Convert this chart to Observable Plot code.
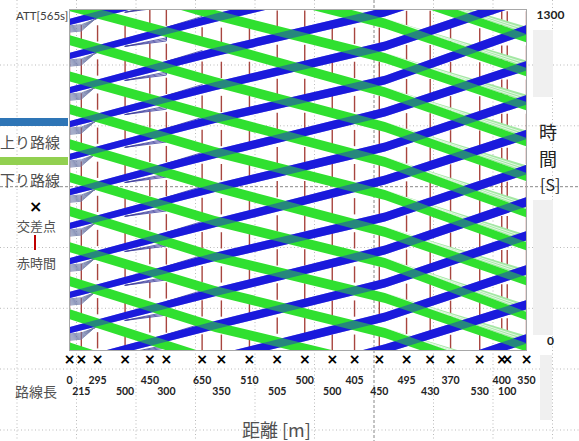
<!DOCTYPE html>
<html><head><meta charset="utf-8">
<script src="https://cdn.jsdelivr.net/npm/d3@7"></script>
<script src="https://cdn.jsdelivr.net/npm/@observablehq/plot@0.6"></script>
<style>
body{margin:0;background:#fff;}
#wrap{position:relative;width:579px;height:441px;overflow:hidden;background:#fff;font-family:"Noto Sans CJK JP",sans-serif;color:#505050;}
#grid,#chart{position:absolute;left:0;top:0;}
.t{position:absolute;white-space:nowrap;line-height:1;}
.sw{position:absolute;left:0;width:68px;height:8px;}
</style></head><body>
<div id="wrap">
<svg id="grid" width="579" height="441"></svg>
<div class="t" style="left:533px;top:30px;width:20px;height:67px;background:#f0f0f0"></div>
<div class="t" style="left:533px;top:200px;width:20px;height:135px;background:#f0f0f0"></div>
<div class="t" style="left:540px;top:355px;width:12px;height:65px;background:#f0f0f0"></div>
<div id="chart"></div>
<div class="t" style="left:16px;top:9px;font:11.5px Lato,sans-serif;color:#404040">ATT[565s]</div>
<div class="sw" style="top:118px;background:#2e75b6"></div>
<div class="t" style="left:0px;top:134px;font-size:15px">上り路線</div>
<div class="sw" style="top:157px;background:#92d050"></div>
<div class="t" style="left:0px;top:172px;font-size:15px">下り路線</div>
<div class="t" style="left:29px;top:197px;font:bold 16px 'DejaVu Sans';color:#000">×</div>
<div class="t" style="left:17px;top:219px;font-size:13px">交差点</div>
<div class="t" style="left:34px;top:235px;width:2px;height:15px;background:#c00000"></div>
<div class="t" style="left:17px;top:256px;font-size:13px">赤時間</div>
<div class="t" style="left:15px;top:384px;font-size:14px">路線長</div>
<div class="t" style="left:242px;top:420px;font-size:18px">距離 [m]</div>
<div class="t" style="left:539px;top:122px;font-size:18px;color:#222">時</div>
<div class="t" style="left:539px;top:149px;font-size:18px;color:#222">間</div>
<div class="t" style="left:540px;top:176px;font-size:16px;color:#222">[S]</div>
</div>
<script>
// link lengths between consecutive intersections [m]
const linkLengths = [0,215,295,500,450,300,650,350,510,505,500,500,405,450,495,430,370,530,400,100,350];
// distances where the band times were read [m]
const bandDist = [0, 2653, 5742, 8305];
// upbound (上り) platoon centre times [s] at bandDist
const upT0 = [-441,-311,-181,-51,75,209,338,472,601,735,860,990,1120,1250];
const upT1 = [-295,-165,-35,95,221,355,484,618,747,881,1006,1136,1266,1396];
const upT2 = [-137,5,126,255,381,507,648,774,907,1029,1159,1288,1424,1554];
const upT3 = [42,172,305,435,564,687,821,953,1083,1220,1340,1469,1605,1735];
const upWidth = [24,32,34,36];
// downbound (下り) platoon centre times [s] at bandDist
const downT0 = [11,137,263,393,530,659,785,919,1044,1182,1311,1441,1580,1710];
const downT1 = [-172,-42,88,225,355,492,621,755,888,1022,1163,1277,1410,1540];
const downT2 = [-328,-198,-68,65,198,332,450,591,717,850,983,1113,1245,1375];
const downT3 = [-517,-387,-257,-124,11,130,263,396,522,660,793,930,1060,1189];
const downWidth = [38,38,38,32];
const downFan = [0,0,0,28];
// queued entry vehicles (seconds before the upbound platoon at the entry)
const entryQueue = [12,16,20,24,28,32,36];
// stragglers stopped at the 6th intersection (seconds behind the platoon edge)
const stopLag = [9,15,21];
// signal plan
const cycle = 130;
const redTime = 62;
const redMid = [39,38,37,35,98,97,29,28,28,93,93,28,28,28,92,92,27,26,90,90,90];
const timeTicks = [0,1300];

// background sheet grid
const g = d3.select("#grid");
const vx = [17,76.5,136,195.5,255,314.5,374,433.5,493,552.5];
const hy = [65,125.8,186.7,247.5,308.3,369,430];
vx.forEach(x=>g.append("line").attr("x1",x).attr("x2",x).attr("y1",0).attr("y2",441)
  .attr("stroke",x===374?"#888":"#bbb").attr("stroke-dasharray",x===374?"3,2":"1,2.5"));
hy.forEach(y=>g.append("line").attr("y1",y).attr("y2",y).attr("x1",0).attr("x2",579)
  .attr("stroke",Math.abs(y-186.7)<1?"#888":"#bbb").attr("stroke-dasharray",Math.abs(y-186.7)<1?"3,2":"1,2.5"));

const cum = d3.cumsum(linkLengths);
const nodes = linkLengths.map((len,i)=>({i, len, d: cum[i]}));

const upT = [upT0,upT1,upT2,upT3];
const downT = [downT0,downT1,downT2,downT3];
const along = (T,b,d)=>{ // position on a band's read centreline
  let j = 0; while (j < bandDist.length-2 && d > bandDist[j+1]) j++;
  const f = (d-bandDist[j])/(bandDist[j+1]-bandDist[j]);
  return T[j][b] + (T[j+1][b]-T[j][b])*f;
};
const upRows = [], downRows = [], fanRows = [], stripeRows = [];
upT0.forEach((_,b)=>bandDist.forEach((d,j)=>upRows.push({band:b,d,t:upT[j][b],w:upWidth[j]})));
downT0.forEach((_,b)=>bandDist.forEach((d,j)=>{
  const r = {band:b,d,t:downT[j][b],w:downWidth[j],f:downFan[j]};
  downRows.push(r);
  if (j>=2) fanRows.push(r);
}));
downT0.forEach((_,b)=>[0.33,0.66].forEach((q,k)=>{
  stripeRows.push({id:b*10+k,d:bandDist[2],t:downT2[b]+downWidth[2]/2});
  stripeRows.push({id:b*10+k,d:bandDist[3],t:downT3[b]+downWidth[3]/2+downFan[3]*q});
}));
// entry queue lines joining the upbound platoon at the 3rd intersection
const queueRows = [];
upT0.forEach((t0,b)=>{
  const tJoin = along(upT,b,cum[2]);
  entryQueue.forEach((off,k)=>{
    const id = b*100+k;
    queueRows.push({id,d:0,t:t0-off});
    queueRows.push({id,d:cum[1],t:t0-off+4});
    queueRows.push({id,d:cum[2],t:tJoin-upWidth[0]/2+k});
  });
});
// stragglers: run behind the platoon, stop at the 6th intersection, then rejoin
const stepRows = [];
upT0.forEach((_,b)=>stopLag.forEach((lag,k)=>{
  const id = b*10+k;
  const e = d=>along(upT,b,d)-upWidth[1]/2;
  stepRows.push({id,d:cum[3],t:e(cum[3])});
  stepRows.push({id,d:cum[5],t:e(cum[5])-lag});
  stepRows.push({id,d:cum[5],t:e(cum[5])+lag+10});
  stepRows.push({id,d:cum[6],t:e(cum[6])+lag+16});
}));
const redRows = [];
nodes.forEach(n=>{
  for (let k=-1;k<=10;k++){
    const s = k*cycle + redMid[n.i] - redTime/2;
    redRows.push({d:n.d, s, e:s+redTime});
  }
});

const BLUE = "#1a1adc", GREEN = "#30e030";
const lab = {fontWeight:"bold", fontFamily:"Lato", fill:"#222"};
const chart = Plot.plot({
  width: 579, height: 441,
  marginLeft: 69, marginRight: 53, marginTop: 9, marginBottom: 91,
  style: {background:"transparent", overflow:"visible"},
  x: {domain:[0,8305], axis:null},
  y: {domain:[0,1300], axis:null},
  marks: [
    Plot.ruleX(redRows, {x:"d", y1:"s", y2:"e", stroke:"#a8453f", strokeWidth:1.4, clip:true}),
    Plot.line(queueRows, {x:"d", y:"t", z:"id", stroke:"#6f7aa8", strokeWidth:0.8, clip:true}),
    Plot.line(stepRows, {x:"d", y:"t", z:"id", stroke:"#3a3a9c", strokeWidth:0.8, clip:true}),
    Plot.areaY(fanRows, {x:"d", y1:r=>r.t+r.w/2, y2:r=>r.t+r.w/2+r.f, z:"band", fill:"#a4e8a4", clip:true}),
    Plot.line(stripeRows, {x:"d", y:"t", z:"id", stroke:"#fff", strokeWidth:0.7, clip:true}),
    Plot.areaY(upRows, {x:"d", y1:r=>r.t-r.w/2, y2:r=>r.t+r.w/2, z:"band", fill:BLUE, clip:true}),
    Plot.areaY(downRows, {x:"d", y1:r=>r.t-r.w/2, y2:r=>r.t+r.w/2, z:"band", fill:GREEN, clip:true}),
    Plot.areaY(upRows, {x:"d", y1:r=>r.t-r.w/2, y2:r=>r.t+r.w/2, z:"band", fill:BLUE, fillOpacity:0.45, clip:true}),
    Plot.frame({stroke:"#a8a8a8"}),
    Plot.axisY([timeTicks[1]], {anchor:"right", tickSize:0, tickPadding:0, dx:24, dy:6, textAnchor:"middle", fontSize:12, tickFormat:d=>String(d), ...lab}),
    Plot.axisY([timeTicks[0]], {anchor:"right", tickSize:0, tickPadding:0, dx:24, dy:-9, textAnchor:"middle", fontSize:12, tickFormat:d=>String(d), ...lab}),
    Plot.text(nodes, {x:"d", text:()=>"×", frameAnchor:"bottom", dy:13, fontSize:14, fontWeight:"bold", fontFamily:"DejaVu Sans", fill:"#000"}),
    Plot.text(nodes.filter(n=>n.i%2===0), {x:"d", text:"len", frameAnchor:"bottom", dy:33, fontSize:10.5, ...lab}),
    Plot.text(nodes.filter(n=>n.i%2===1), {x:"d", text:"len", frameAnchor:"bottom", dy:44, fontSize:10.5, ...lab})
  ]
});
document.getElementById("chart").appendChild(chart);
</script>
</body></html>
